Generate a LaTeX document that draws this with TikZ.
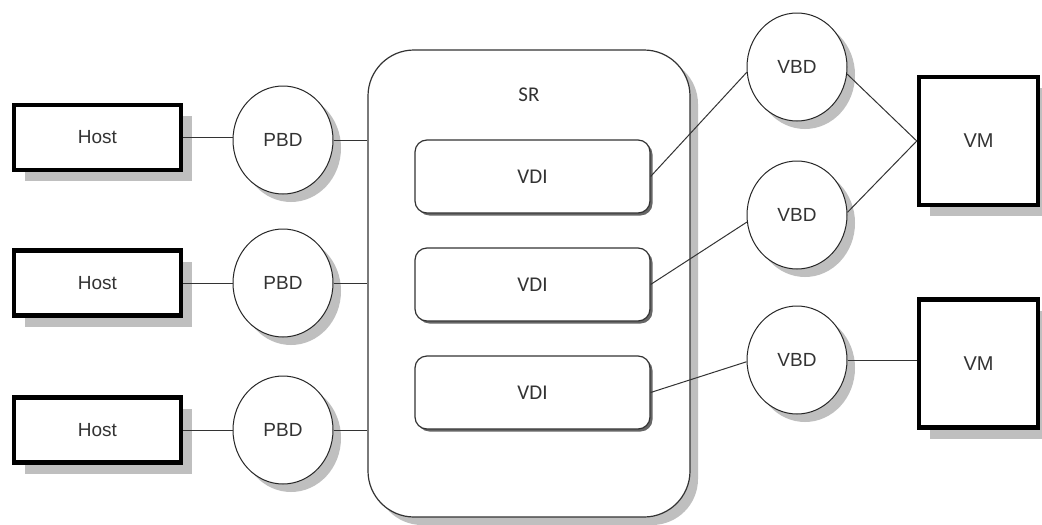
\documentclass[tikz,border=0pt]{standalone}
\usepackage{fontspec}
\newfontfamily\arialf{Liberation Sans}
\newfontfamily\calf{Carlito}
\usetikzlibrary{shapes.geometric,shadows}
\begin{document}
\begin{tikzpicture}[x=1pt,y=-1pt,
  afont/.style={font=\arialf\fontsize{19}{21}\selectfont, text=black!80},
  cfont/.style={font=\calf\fontsize{21}{24}\selectfont, text=black!80},
  bigshadow/.style={drop shadow={shadow xshift=11pt, shadow yshift=-11pt, fill=black!25, opacity=1}},
  thickbox/.style={draw=black, line width=4.5pt, fill=white, inner sep=0pt, afont, bigshadow},
  hostbox/.style={thickbox, minimum width=167pt, minimum height=65pt},
  vmbox/.style={thickbox, minimum width=119pt, minimum height=128pt, font=\arialf\fontsize{20}{22}\selectfont},
  bd/.style={ellipse, draw=black!85, line width=1pt, fill=white, minimum width=100pt, minimum height=108pt, inner sep=0pt, afont,
    drop shadow={shadow xshift=8pt, shadow yshift=-8pt, fill=black!25, opacity=1}},
  srbox/.style={draw=black!80, line width=1.2pt, fill=white, rounded corners=46pt, minimum width=322pt, minimum height=467pt, inner sep=0pt,
    drop shadow={shadow xshift=8pt, shadow yshift=-8pt, fill=black!25, opacity=1}},
  vdibox/.style={draw=black!80, line width=1.2pt, fill=white, rounded corners=12pt, minimum width=235pt, minimum height=73pt, inner sep=0pt, cfont,
    drop shadow={shadow xshift=2.5pt, shadow yshift=-2.5pt, fill=black!60, opacity=1}},
  conn/.style={draw=black!80, line width=1pt}
]
\useasboundingbox (0,0) rectangle (1042,525);
\fill[white] (0,0) rectangle (1042,525);

% SR container
\node[srbox] (sr) at (529,283.5) {};
\node[cfont, anchor=center] (srlabel) at ([yshift=-45pt]sr.north) {SR};

% VDIs
\node[vdibox] (vdi1) at (532.5,176.5) {VDI};
\node[vdibox] (vdi2) at (532.5,284.5) {VDI};
\node[vdibox] (vdi3) at (532.5,392.5) {VDI};

% Hosts
\node[hostbox] (h1) at (97.5,137.5) {Host};
\node[hostbox] (h2) at (97.5,283) {Host};
\node[hostbox] (h3) at (97.5,430) {Host};

% PBDs
\node[bd] (p1) at (283,140) {PBD};
\node[bd] (p2) at (283,283) {PBD};
\node[bd] (p3) at (283,430) {PBD};

% VBDs
\node[bd] (v1) at (797,67) {VBD};
\node[bd] (v2) at (797,215) {VBD};
\node[bd] (v3) at (797,360) {VBD};

% VMs
\node[vmbox] (vm1) at (978.5,141) {VM};
\node[vmbox] (vm2) at (978.5,363.5) {VM};

% connectors
\draw[conn] (h1.east) -- (h1.east -| p1.west);
\draw[conn] (h2.east) -- (h2.east -| p2.west);
\draw[conn] (h3.east) -- (h3.east -| p3.west);
\draw[conn] (p1.east) -- (p1.east -| sr.west);
\draw[conn] (p2.east) -- (p2.east -| sr.west);
\draw[conn] (p3.east) -- (p3.east -| sr.west);
\draw[conn] (vdi1.east) -- (v1.186);
\draw[conn] (vdi2.east) -- (v2.188);
\draw[conn] (vdi3.east) -- (v3.182);
\draw[conn] (v1.352) -- (vm1.west);
\draw[conn] (v2.3) -- (vm1.west);
\draw[conn] (v3.east) -- (v3.east -| vm2.west);
\end{tikzpicture}
\end{document}
